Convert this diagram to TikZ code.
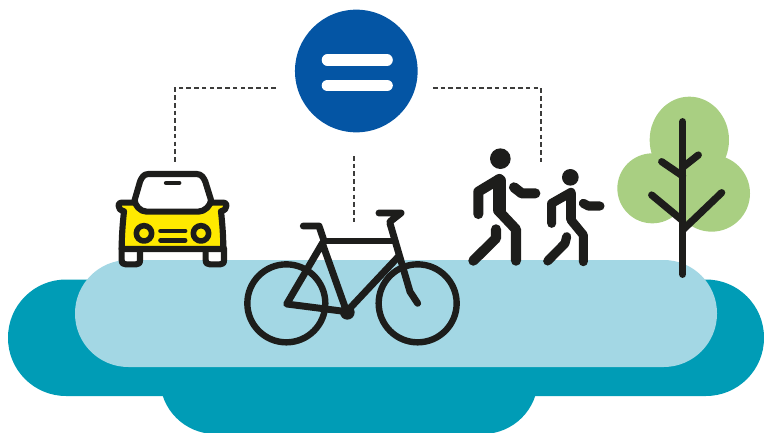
\documentclass[tikz,border=0pt]{standalone}
\definecolor{teal1}{HTML}{009CB6}
\definecolor{pale}{HTML}{A3D7E4}
\definecolor{eqblue}{HTML}{0455A4}
\definecolor{leaf}{HTML}{A9CF82}
\definecolor{caryellow}{HTML}{FFE900}
\definecolor{ink}{HTML}{1D1D1B}
\definecolor{dashc}{HTML}{3C3C3B}
\tikzset{
  ic/.style={draw=ink,line cap=round,line join=round},
  zoomed/.style={x=0.25pt,y=-0.25pt},
  conn/.style={draw=dashc,line width=0.9pt,dash pattern=on 3.4pt off 2.4pt}
}
\begin{document}
\begin{tikzpicture}[x=0.75pt,y=-0.75pt]
\useasboundingbox (0,0) rectangle (764,432);
\begin{scope}
\clip (0,0) rectangle (764,432);
% ground
\fill[teal1,rounded corners=41.5pt] (160,340) rectangle (538,434);
\fill[teal1,rounded corners=43.5pt] (8,279.5) rectangle (764,396);
\fill[pale,rounded corners=40pt] (75,260) rectangle (717,367);
\end{scope}
% equals sign
\fill[eqblue] (356.3,71) circle[radius=46pt];
\draw[white,line width=8.7pt,line cap=round] (327.5,60) -- (387,60);
\draw[white,line width=8.7pt,line cap=round] (327.5,85.5) -- (387,85.5);
% dashed connectors
\coordinate (la) at (276,88); \coordinate (lb) at (175,88); \coordinate (lc) at (175,163);
\coordinate (ra) at (433,88); \coordinate (rb) at (541,88); \coordinate (rc) at (541,163);
\coordinate (ma) at (354,156); \coordinate (mb) at (354,222);
\draw[conn] (la) -- (lb) -- (lc);
\draw[conn] (ra) -- (rb) -- (rc);
\draw[conn] (ma) -- (mb);
% car
\begin{scope}[shift={(100,150)},zoomed]
\draw[ic,line width=4.6pt,fill=white] (65,295) -- (65,330) .. controls (65,340) and (70,343) .. (78,343) -- (108,343) .. controls (116,343) and (120,340) .. (120,330) -- (120,295);
\draw[ic,line width=4.6pt,fill=white] (317,295) -- (317,330) .. controls (317,340) and (322,343) .. (330,343) -- (360,343) .. controls (368,343) and (372,340) .. (372,330) -- (372,295);
\draw[ic,line width=4.6pt,fill=caryellow] (105,158) -- (64,158) .. controls (56,158) and (56,162) .. (56,168) .. controls (56,176) and (60,180) .. (72,184) .. controls (68,220) and (65,260) .. (65,297) -- (370,297) .. controls (370,260) and (367,220) .. (363,184) .. controls (375,180) and (379,176) .. (379,168) .. controls (379,162) and (379,158) .. (371,158) -- (330,158);
\draw[ic,line width=4.6pt,fill=white] (145,72) -- (290,72) .. controls (305,72) and (312,85) .. (316,95) -- (333,150) .. controls (333,165) and (315,185) .. (295,185) -- (140,185) .. controls (120,185) and (104,165) .. (104,150) -- (120,95) .. controls (124,85) and (130,72) .. (145,72) -- cycle;
\draw[ic,line width=3.7pt] (199,99) -- (237,99);
\draw[ic,line width=4.2pt] (132,250) circle[radius=23];
\draw[ic,line width=4.2pt] (303,250) circle[radius=23];
\draw[ic,line width=3.7pt] (182,243) -- (255,243);
\draw[ic,line width=3.7pt] (182,271) -- (255,271);
\end{scope}
% bicycle
\begin{scope}[shift={(235,200)},zoomed]
\draw[ic,line width=4.8pt] (154,310) circle[radius=117];
\draw[ic,line width=4.8pt] (548,310) circle[radius=117];
\draw[ic,line width=5.2pt] (155,312) -- (262,130) -- (335,335) -- cycle;
\draw[ic,line width=5.2pt] (266,123) -- (480,123);
\draw[ic,line width=5.2pt] (335,335) -- (490,170);
\draw[ic,line width=5.2pt] (465,70) -- (525,275) -- (548,310);
\draw[ic,line width=5.2pt] (432,39) -- (498,39) -- (465,65);
\draw[ic,line width=5.2pt] (205,78) -- (252,78) -- (268,125);
\fill[ink] (337,337) circle[radius=22];
\end{scope}
% walkers
\begin{scope}[shift={(460,140)},zoomed]
\fill[ink] (121,56) circle[radius=31];
\draw[ic,line width=7.6pt] (55,222) -- (55,155) -- (118,117) -- (118,215) -- (168,268) -- (168,362);
\draw[ic,line width=9.5pt] (118,122) -- (118,210);
\draw[ic,line width=7.6pt] (108,268) -- (108,295) -- (40,362);
\draw[ic,line width=7.6pt] (162,142) -- (185,160) -- (226,160);
\fill[ink] (331,112) circle[radius=25];
\draw[ic,line width=6.8pt] (275,250) -- (275,190) -- (333,157) -- (333,240) -- (370,285) -- (370,365);
\draw[ic,line width=8pt] (333,162) -- (333,235);
\draw[ic,line width=6.8pt] (320,290) -- (315,310) -- (263,363);
\draw[ic,line width=6.8pt] (370,190) -- (385,198) -- (420,198);
\end{scope}
% tree
\begin{scope}[shift={(610,90)},zoomed]
\fill[leaf] (238,150) ellipse[x radius=119,y radius=130];
\fill[leaf] (127,295) circle[radius=105];
\fill[leaf] (305,310) circle[radius=115];
\fill[leaf] (150,200) rectangle (300,330);
\draw[ic,line width=5.4pt] (218,95) -- (218,553);
\draw[ic,line width=5.4pt] (155,215) -- (218,258);
\draw[ic,line width=5.4pt] (265,195) -- (218,232);
\draw[ic,line width=5.4pt] (125,315) -- (218,392);
\draw[ic,line width=5.4pt] (335,308) -- (218,420);
\end{scope}
\end{tikzpicture}
\end{document}
